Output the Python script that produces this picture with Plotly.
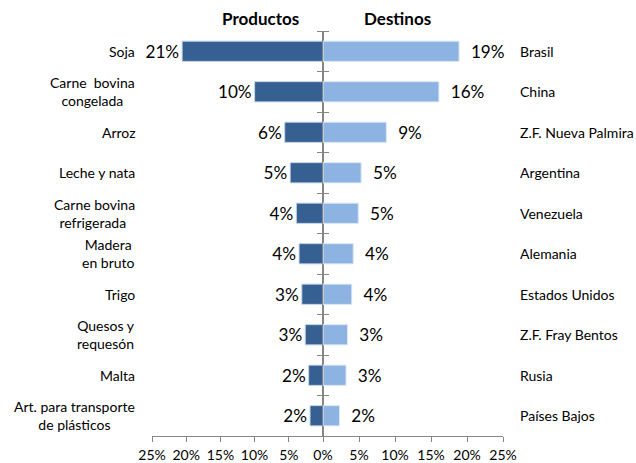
import plotly.graph_objects as go

productos = ["Soja", "Carne  bovina<br>congelada", "Arroz", "Leche y nata", "Carne bovina<br>refrigerada ",
             "Madera<br>en bruto", "Trigo", "Quesos y<br>requesón", "Malta", "Art. para transporte<br>de plásticos"]
prod_vals = [20.6, 10.0, 5.6, 4.8, 3.9, 3.5, 3.1, 2.6, 2.1, 1.9]

destinos = ["Brasil", "China", "Z.F. Nueva Palmira", "Argentina", "Venezuela",
            "Alemania", "Estados Unidos", "Z.F. Fray Bentos", "Rusia", "Países Bajos"]
dest_vals = [18.9, 16.1, 8.8, 5.3, 4.9, 4.2, 4.0, 3.4, 3.2, 2.3]

left_ticks = [25, 20, 15, 10, 5]
right_ticks = [0, 5, 10, 15, 20, 25]

W, H = 636, 463
T, B = 31, 27
PH = H - T - B
FONT = "Lato"
x_left0, x_mid, x_right1 = 152 / W, 323 / W, 503 / W

fig = go.Figure()
fig.add_trace(go.Bar(
    y=list(range(len(productos))), x=prod_vals, orientation="h",
    marker=dict(color="#376092", line=dict(color="#c5d5ea", width=1)),
    text=[f"{round(v)}%" for v in prod_vals], textposition="outside",
    textfont=dict(size=19.5, color="black", family=FONT), cliponaxis=False,
    xaxis="x", yaxis="y", hoverinfo="skip"))
fig.add_trace(go.Bar(
    y=list(range(len(destinos))), x=dest_vals, orientation="h",
    marker=dict(color="#8db3e2", line=dict(color="#dce7f5", width=1)),
    text=[f"\u00a0\u00a0{round(v)}%" for v in dest_vals], textposition="outside",
    textfont=dict(size=19.5, color="black", family=FONT), cliponaxis=False,
    xaxis="x2", yaxis="y2", hoverinfo="skip"))

annotations = []
for i, p in enumerate(productos):
    annotations.append(dict(x=137 / W, xref="paper", y=i, yref="y", text=p, showarrow=False,
                            xanchor="right", align="center", font=dict(size=14, family=FONT, color="black")))
for i, d in enumerate(destinos):
    annotations.append(dict(x=518 / W, xref="paper", y=i, yref="y2", text=d, showarrow=False,
                            xanchor="left", align="left", font=dict(size=14, family=FONT, color="black")))
title_y = (H - B - 19) / PH
annotations.append(dict(x=260 / W, xref="paper", y=title_y, yref="paper", yanchor="middle",
                        text="<b>Productos</b>", showarrow=False, font=dict(size=17, family=FONT, color="black")))
annotations.append(dict(x=397 / W, xref="paper", y=title_y, yref="paper", yanchor="middle",
                        text="<b>Destinos</b>", showarrow=False, font=dict(size=17, family=FONT, color="black")))

axis_col = "#868686"
fig.update_layout(
    width=W, height=H, margin=dict(l=0, r=0, t=T, b=B, pad=0), autosize=False,
    paper_bgcolor="white", plot_bgcolor="white", showlegend=False, bargap=0.5,
    font=dict(family=FONT, color="black"),
    xaxis=dict(domain=[x_left0, x_mid], range=[25, 0], tickvals=left_ticks, automargin=False,
               ticktext=[f"{t}%" for t in left_ticks], showgrid=False, zeroline=False,
               showline=True, linecolor=axis_col, ticks="outside", ticklen=5, tickcolor=axis_col,
               ticklabelstandoff=1,
               tickfont=dict(size=14, family=FONT), anchor="y"),
    xaxis2=dict(domain=[x_mid, x_right1], range=[0, 25], tickvals=right_ticks, automargin=False,
                ticktext=[f"{t}%" for t in right_ticks], showgrid=False, zeroline=False,
                showline=True, linecolor=axis_col, ticks="outside", ticklen=5, tickcolor=axis_col,
                ticklabelstandoff=1,
                tickfont=dict(size=14, family=FONT), anchor="y2"),
    yaxis=dict(domain=[0, 1], anchor="x", side="right", range=[len(productos) - 0.5, -0.5],
               automargin=False,
               showticklabels=False, showgrid=False, zeroline=False, showline=True, linecolor=axis_col,
               ticks="outside", ticklen=5, tickcolor=axis_col,
               tickvals=[i + 0.5 for i in range(-1, len(productos))]),
    yaxis2=dict(domain=[0, 1], anchor="x2", side="left", range=[len(destinos) - 0.5, -0.5],
                automargin=False,
                showticklabels=False, showgrid=False, zeroline=False, showline=True, linecolor=axis_col,
                ticks="outside", ticklen=5, tickcolor=axis_col,
                tickvals=[i + 0.5 for i in range(-1, len(destinos))]),
    annotations=annotations,
)
fig.write_html("out.html", config={"displayModeBar": False, "responsive": False},
               post_script="document.body.style.margin='0';document.body.style.overflow='hidden';")
